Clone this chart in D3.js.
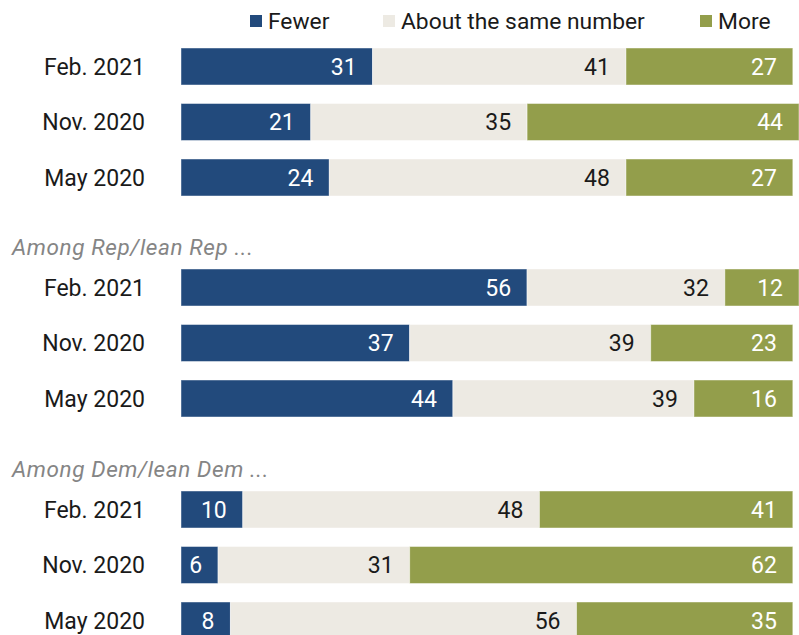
<!DOCTYPE html>
<html><head><meta charset="utf-8">
<script src="https://cdn.jsdelivr.net/npm/d3@7"></script>
<style>
body{margin:0;background:#fff;}
svg text{font-family:Roboto,"Liberation Sans",sans-serif;}
</style></head>
<body><svg id="c" width="799" height="635"></svg>
<script>
const seriesNames = ["Fewer", "About the same number", "More"];
const seriesColors = ["#224a7c", "#edeae3", "#939e4b"];
const labelColors = ["#ffffff", "#1a1a1a", "#ffffff"];
const rowLabels = ["Feb. 2021", "Nov. 2020", "May 2020"];
const groupTitles = ["", "Among Rep/lean Rep ...", "Among Dem/lean Dem ..."];
const fewer = [[31, 21, 24], [56, 37, 44], [10, 6, 8]];
const same  = [[41, 35, 48], [32, 39, 39], [48, 31, 56]];
const more  = [[27, 44, 27], [12, 23, 16], [41, 62, 35]];

const svg = d3.select("#c");
const x = d3.scaleLinear().domain([0, 100]).range([181, 799]);
const groupTop = d3.scaleOrdinal().domain([0, 1, 2]).range([38.75, 259.75, 481.75]);

// legend
const legendX = [250, 383, 700];
const lg = svg.append("g");
seriesNames.forEach((n, i) => {
  lg.append("rect").attr("x", legendX[i]).attr("y", 15).attr("width", 12).attr("height", 12).attr("fill", seriesColors[i]);
  lg.append("text").attr("x", legendX[i] + 18).attr("y", 29).attr("font-size", 22.8).attr("fill", "#1a1a1a").text(n);
});

[0, 1, 2].forEach(g => {
  const top = groupTop(g);
  const y = d3.scaleBand().domain(rowLabels).range([top, top + 166.5]).paddingInner(1/3).paddingOuter(1/6);
  if (groupTitles[g]) {
    svg.append("text").attr("x", 12).attr("y", top - 5).attr("font-size", 22.5).attr("font-style", "italic")
      .attr("fill", "#858585").attr("letter-spacing", 0.6).text(groupTitles[g]);
  }
  rowLabels.forEach((lab, r) => {
    const vals = [fewer[g][r], same[g][r], more[g][r]];
    const cy = y(lab) + y.bandwidth() / 2;
    svg.append("text").attr("x", 145).attr("y", cy).attr("dy", "0.36em").attr("text-anchor", "end")
      .attr("font-size", 23).attr("fill", "#1a1a1a").text(lab);
    let cum = 0;
    vals.forEach((v, i) => {
      const x0 = x(cum), x1 = x(cum + v);
      svg.append("rect").attr("x", x0).attr("y", y(lab)).attr("width", x1 - x0).attr("height", y.bandwidth())
        .attr("fill", seriesColors[i]).attr("stroke", "#ffffff").attr("stroke-opacity", 0.45).attr("stroke-width", 1);
      svg.append("text").attr("x", x1 - 16).attr("y", cy).attr("dy", "0.36em").attr("text-anchor", "end")
        .attr("font-size", 23).attr("fill", labelColors[i]).text(v);
      cum += v;
    });
  });
});
</script></body></html>
